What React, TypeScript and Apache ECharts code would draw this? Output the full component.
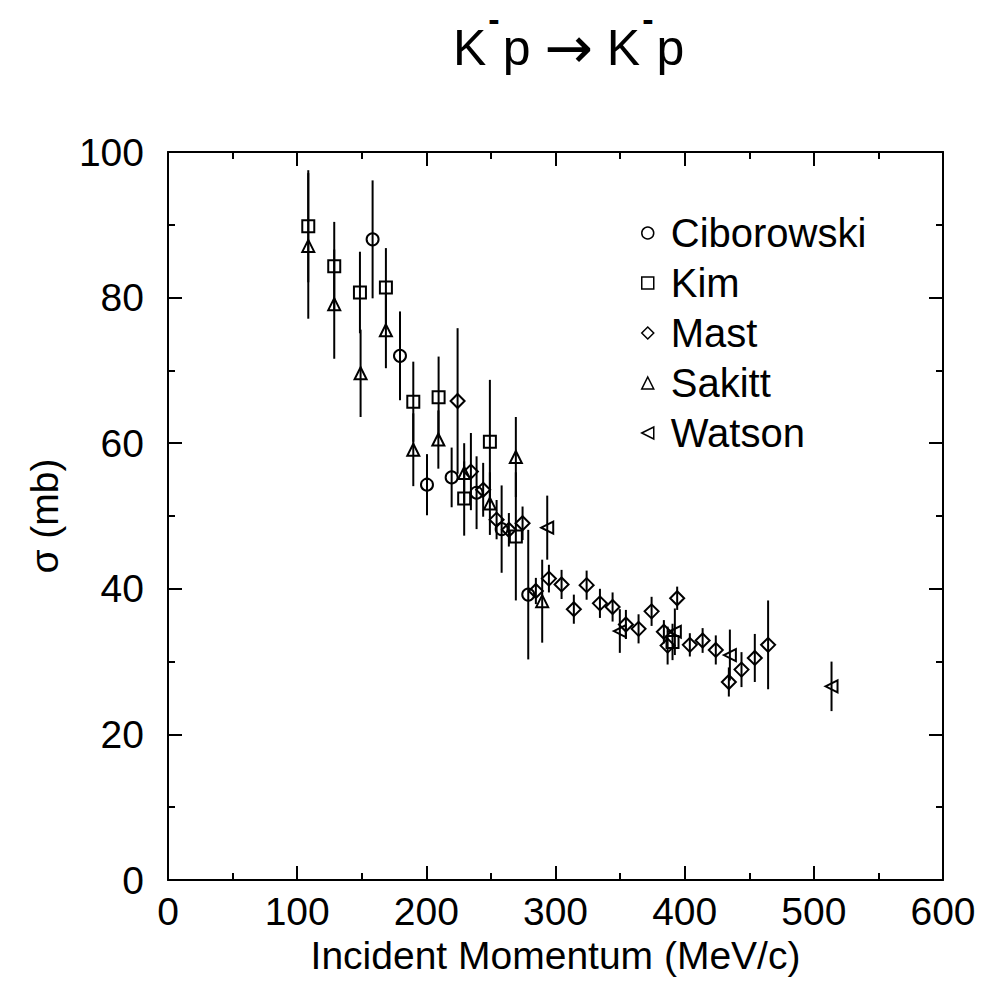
import React, { useEffect, useRef } from "react";
import * as echarts from "echarts";

// [momentum (MeV/c), sigma (mb), error (mb)]
const ciborowski = [
  [158.4, 88.0, 8.1], [179.6, 72.0, 6.1], [200.5, 54.3, 4.2], [219.6, 55.3, 4.1],
  [238.9, 53.2, 5.0], [258.3, 48.2, 6.0], [278.9, 39.2, 8.9],
];
const kim = [
  [108.6, 89.8, 7.7], [128.7, 84.3, 6.1], [148.6, 80.7, 5.6], [168.7, 81.4, 5.4],
  [189.9, 65.7, 5.5], [209.5, 66.3, 5.6], [229.3, 52.4, 5.1], [249.2, 60.2, 8.5],
  [269.3, 47.2, 8.8], [390.6, 32.7, 2.5],
];
const mast = [
  [224.2, 65.8, 10.0], [234.5, 56.1, 5.3], [244.0, 53.6, 3.7], [254.4, 49.5, 2.7],
  [263.9, 48.1, 2.3], [274.5, 49.0, 2.3], [284.8, 39.7, 1.8], [294.9, 41.4, 1.9],
  [304.7, 40.6, 2.0], [314.2, 37.2, 2.0], [324.1, 40.5, 2.0], [334.4, 38.0, 2.0],
  [344.2, 37.5, 2.0], [354.5, 35.1, 2.0], [364.3, 34.5, 2.0], [374.4, 36.9, 2.0],
  [383.9, 34.1, 1.6], [386.8, 32.2, 2.6], [394.2, 38.7, 1.6], [404.0, 32.3, 1.6],
  [413.9, 32.9, 1.7], [424.1, 31.6, 2.0], [434.2, 27.2, 2.0], [444.0, 28.9, 2.4],
  [454.3, 30.5, 3.3], [464.6, 32.3, 6.1],
];
const sakitt = [
  [108.6, 87.1, 10.0], [128.7, 79.1, 7.5], [149.1, 69.6, 6.0], [168.7, 75.5, 5.2],
  [189.9, 59.1, 5.0], [209.3, 60.5, 4.0], [229.3, 55.9, 4.1], [249.2, 51.7, 4.3],
  [269.3, 58.1, 5.5], [289.7, 38.3, 5.7],
];
const watson = [
  [293.6, 48.4, 4.4], [349.8, 34.2, 3.0], [392.4, 34.1, 3.2], [435.0, 30.9, 3.5],
  [513.7, 26.6, 3.4],
];

const seriesNames = ["Ciborowski", "Kim", "Mast", "Sakitt", "Watson"];
const seriesData = [ciborowski, kim, mast, sakitt, watson];
const seriesSymbols = ["circle", "rect", "diamond", "triangle", "path://M0,5L10,0L10,10Z"];

const xTicks = { min: 0, max: 600, interval: 100 };
const yTicks = { min: 0, max: 100, interval: 20 };

const F = "'Liberation Sans', Arial, Helvetica, sans-serif";

export default function App() {
  const ref = useRef<HTMLDivElement>(null);
  useEffect(() => {
    if (!ref.current) return;
    const chart = echarts.init(ref.current, null, { renderer: "svg" });

    const axisCommon = (isX: boolean, pos: string, showLabel: boolean) => ({
      type: "value",
      position: pos,
      ...(isX ? xTicks : yTicks),
      axisLine: { show: true, onZero: false, lineStyle: { color: "#000", width: 2 } },
      axisTick: { show: true, inside: true, length: 14, lineStyle: { color: "#000", width: 2 } },
      minorTick: { show: true, splitNumber: 2, length: 7, lineStyle: { color: "#000", width: 2 } },
      splitLine: { show: false },
      minorSplitLine: { show: false },
      axisLabel: {
        show: showLabel,
        fontSize: 39,
        color: "#000",
        fontFamily: F,
        margin: isX ? 12 : 24,
      },
    });

    const scatterSeries = seriesNames.map((name, i) => ({
      name,
      type: "scatter",
      data: seriesData[i].map((d) => [d[0], d[1]]),
      symbol: seriesSymbols[i],
      symbolSize: i === 2 ? 14 : 12,
      itemStyle: { color: "rgba(0,0,0,0)", borderColor: "#000", borderWidth: 2, opacity: 1 },
      z: 3,
    }));

    const errorSeries = seriesNames.map((name, i) => ({
      type: "custom",
      name: name + " err",
      data: seriesData[i],
      encode: { x: 0, y: 1 },
      renderItem: (params: any, api: any) => {
        const x = api.value(0);
        const y = api.value(1);
        const e = api.value(2);
        const top = api.coord([x, y + e]);
        const bot = api.coord([x, y - e]);
        return {
          type: "line",
          shape: { x1: top[0], y1: top[1], x2: bot[0], y2: bot[1] },
          style: { stroke: "#000", lineWidth: 2 },
        };
      },
      z: 2,
    }));

    const option = {
      animation: false,
      backgroundColor: "#fff",
      title: {
        text: "{a|K}{m|-}{a|p }{r|→}{a| K}{m|-}{a|p}",
        left: 453,
        top: 18,
        padding: 0,
        textStyle: {
          fontWeight: "normal",
          rich: {
            a: { fontSize: 50, fontFamily: F, fontWeight: "normal", color: "#000", lineHeight: 60 },
            r: { fontSize: 58, fontFamily: "'DejaVu Sans', sans-serif", fontWeight: "normal", color: "#000", lineHeight: 60 },
            m: {
              fontSize: 34,
              fontFamily: F,
              fontWeight: "bold",
              color: "#000",
              lineHeight: 6,
              padding: [-16, 3, 0, 2],
              verticalAlign: "top",
            },
          },
        },
      },
      legend: {
        orient: "vertical",
        left: 636,
        top: 208,
        itemWidth: 12,
        itemHeight: 12,
        itemGap: 10,
        data: seriesNames,
        textStyle: { fontSize: 40, color: "#000", fontFamily: F, lineHeight: 40, padding: [0, 0, 0, 12] },
        itemStyle: { color: "rgba(0,0,0,0)", borderColor: "#000", borderWidth: 1.5 },
      },
      grid: { left: 168, right: 41, top: 152, bottom: 111, containLabel: false },
      xAxis: [
        {
          ...axisCommon(true, "bottom", true),
          name: "Incident Momentum (MeV/c)",
          nameLocation: "middle",
          nameGap: 55,
          nameTextStyle: { fontSize: 39, color: "#000", fontFamily: F },
        },
        axisCommon(true, "top", false),
      ],
      yAxis: [
        {
          ...axisCommon(false, "left", true),
          name: "σ (mb)",
          nameLocation: "middle",
          nameGap: 104,
          nameTextStyle: { fontSize: 39, color: "#000", fontFamily: F },
        },
        axisCommon(false, "right", false),
      ],
      series: [...errorSeries, ...scatterSeries],
    };
    chart.setOption(option as any);
    return () => chart.dispose();
  }, []);
  return (
    <div
      ref={ref}
      style={{ position: "fixed", left: 0, top: 0, width: 984, height: 991, background: "#fff" }}
    />
  );
}
